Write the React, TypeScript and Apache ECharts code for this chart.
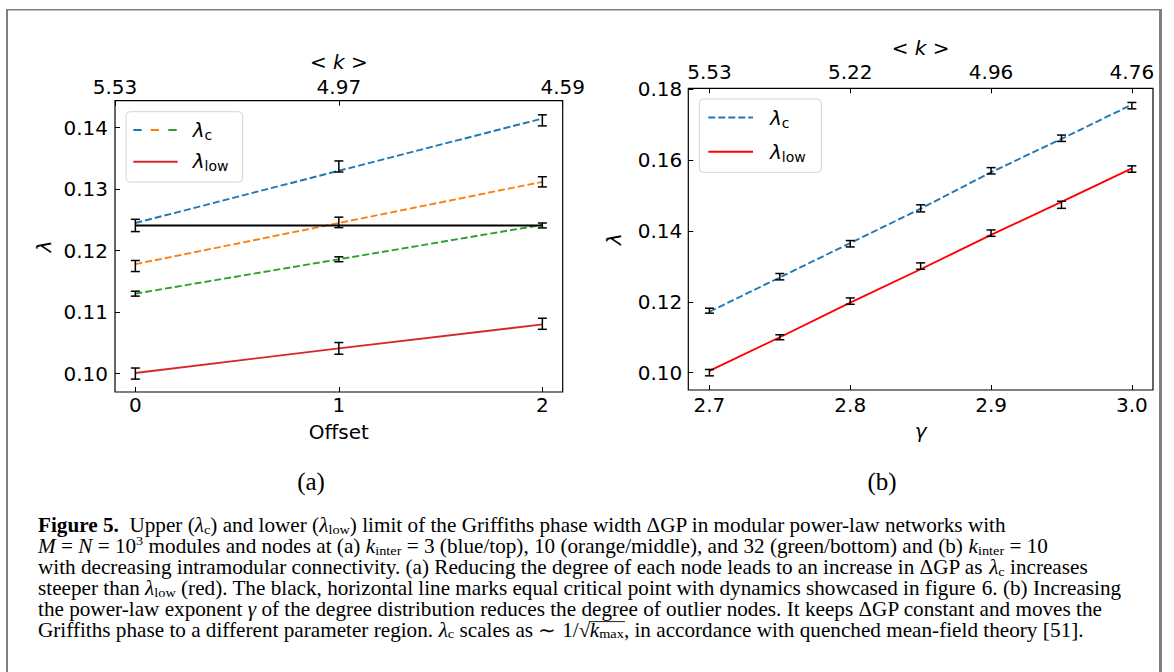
import React, { useEffect, useRef } from 'react';
import * as echarts from 'echarts';

// ---------- Panel (a): lambda versus offset ----------
const offsets = [0, 1, 2];
const kMeanA = ['5.53', '4.97', '4.59'];
const yTicksA = [0.10, 0.11, 0.12, 0.13, 0.14];

const lcBlueMean = [0.1241, 0.1337, 0.1412];
const lcBlueErr = [0.0010, 0.0009, 0.0009];
const lcBlueFit = [0.1245, 0.1330, 0.1415];

const lcOrangeMean = [0.1175, 0.1246, 0.1312];
const lcOrangeErr = [0.0009, 0.00085, 0.00083];
const lcOrangeFit = [0.1178, 0.1245, 0.1312];

const lcGreenMean = [0.1130, 0.1186, 0.1241];
const lcGreenErr = [0.0004, 0.0004, 0.0004];
const lcGreenFit = [0.1130, 0.1186, 0.1242];

const lowRedMean = [0.1000, 0.1041, 0.1081];
const lowRedErr = [0.0009, 0.00095, 0.0009];
const lowRedFit = [0.1001, 0.1041, 0.1080];

const equalCritical = 0.1241;

// ---------- Panel (b): lambda versus gamma ----------
const gammas = [2.70, 2.75, 2.80, 2.85, 2.90, 2.95, 3.00];
const gammaTicks = [2.7, 2.8, 2.9, 3.0];
const kMeanB = ['5.53', '5.22', '4.96', '4.76'];
const yTicksB = [0.10, 0.12, 0.14, 0.16, 0.18];

const lcMeanB = [0.1175, 0.1271, 0.1364, 0.1464, 0.1570, 0.1662, 0.1754];
const lcErrB = [0.0007, 0.0009, 0.0009, 0.0010, 0.0009, 0.0009, 0.0009];
const lcFitB = [0.1172, 0.1269, 0.1366, 0.1463, 0.1566, 0.1660, 0.1757];

const lowMeanB = [0.1000, 0.1100, 0.1202, 0.1301, 0.1394, 0.1474, 0.1575];
const lowErrB = [0.0009, 0.0007, 0.0009, 0.0009, 0.0009, 0.0010, 0.0009];
const lowFitB = [0.1005, 0.1100, 0.1198, 0.1292, 0.1389, 0.1482, 0.1577];

// ---------- Caption ----------
const captionLines = [
  '{b|Figure 5.}{n|  Upper (}{i|λ}{s|c}{n|) and lower (}{i|λ}{s|low}{n|) limit of the Griffiths phase width ΔGP in modular power-law networks with}',
  '{i|M}{n| = }{i|N}{n| = 10}{p|3}{n| modules and nodes at (a) }{i|k}{s|inter}{n| = 3 (blue/top), 10 (orange/middle), and 32 (green/bottom) and (b) }{i|k}{s|inter}{n| = 10}',
  '{n|with decreasing intramodular connectivity. (a) Reducing the degree of each node leads to an increase in ΔGP as }{i|λ}{s|c}{n| increases}',
  '{n|steeper than }{i|λ}{s|low}{n| (red). The black, horizontal line marks equal critical point with dynamics showcased in figure }{l|6}{n|. (b) Increasing}',
  '{n|the power-law exponent }{i|γ}{n| of the degree distribution reduces the degree of outlier nodes. It keeps ΔGP constant and moves the}',
  '{n|Griffiths phase to a different parameter region. }{i|λ}{s|c}{n| scales as ∼ 1/√}{i|k}{s|max}{n|, in accordance with quenched mean-field theory [}{l|51}{n|].}',
];

const SANS = 'DejaVu Sans';
const SERIF = 'Liberation Serif';
const CAP_COLOR = '#231f20';
const CAP_SIZE = 20;
const CAP_SUB = 13.5;
const CAP_STRETCH = 1.06;

const BLUE = '#1f77b4';
const ORANGE = '#ff7f0e';
const GREEN = '#2ca02c';
const TAB_RED = '#d62728';
const RED = '#ff0000';

const zip = (xs: number[], ys: number[]) => xs.map((x, i) => [x, ys[i]]);

const tickFont = { fontFamily: SANS, fontSize: 20, color: '#000' };

const mathRich = {
  n: { fontFamily: SANS, fontSize: 20, color: '#000' },
  i: { fontFamily: SANS, fontSize: 20, fontStyle: 'italic', color: '#000' },
  s: { fontFamily: SANS, fontSize: 14, color: '#000', padding: [10, 0, 0, 0] },
};

const capRich = {
  n: { fontFamily: SERIF, fontSize: CAP_SIZE, color: CAP_COLOR },
  b: { fontFamily: SERIF, fontSize: CAP_SIZE, fontWeight: 'bold', color: CAP_COLOR },
  i: { fontFamily: SERIF, fontSize: CAP_SIZE, fontStyle: 'italic', color: CAP_COLOR },
  l: { fontFamily: SERIF, fontSize: CAP_SIZE, color: '#1d8fd0' },
  s: { fontFamily: SERIF, fontSize: CAP_SUB, color: CAP_COLOR, padding: [8, 0, 0, 0] },
  p: { fontFamily: SERIF, fontSize: CAP_SUB, color: CAP_COLOR, padding: [0, 0, 11, 0] },
};

function errorBars(xs: number[], means: number[], errs: number[], xAxisIndex: number, yAxisIndex: number) {
  return {
    type: 'custom',
    xAxisIndex,
    yAxisIndex,
    z: 10,
    data: xs.map((x, i) => [x, means[i] - errs[i], means[i] + errs[i]]),
    encode: { x: 0, y: [1, 2] },
    renderItem: (_params: any, api: any) => {
      const x = api.value(0);
      const lo = api.coord([x, api.value(1)]);
      const hi = api.coord([x, api.value(2)]);
      const cap = 4.5;
      const style = { stroke: '#000', lineWidth: 1.5 };
      return {
        type: 'group',
        children: [
          { type: 'line', shape: { x1: lo[0], y1: lo[1], x2: hi[0], y2: hi[1] }, style },
          { type: 'line', shape: { x1: lo[0] - cap, y1: lo[1], x2: lo[0] + cap, y2: lo[1] }, style },
          { type: 'line', shape: { x1: hi[0] - cap, y1: hi[1], x2: hi[0] + cap, y2: hi[1] }, style },
        ],
      };
    },
  };
}

function fitLine(xs: number[], ys: number[], color: string, dashed: boolean, xAxisIndex: number, yAxisIndex: number) {
  return {
    type: 'line',
    xAxisIndex,
    yAxisIndex,
    data: zip(xs, ys),
    showSymbol: false,
    symbol: 'none',
    z: 5,
    lineStyle: { color, width: 1.9, type: dashed ? [7, 3] : 'solid' },
  };
}

function textWidth(ctx: CanvasRenderingContext2D, txt: string, size: number, style = 'normal') {
  ctx.font = `${style} normal ${size}px "${SERIF}"`;
  return ctx.measureText(txt).width;
}

export default function App() {
  const ref = useRef<HTMLDivElement>(null);

  useEffect(() => {
    if (!ref.current) return;
    const chart = echarts.init(ref.current, undefined, { renderer: 'svg' });

    const axisTick = { show: true, inside: true, length: 5, lineStyle: { color: '#000', width: 1 } };
    const noLine = { show: false, onZero: false };
    const capX = 38;
    const capY = [525.5, 546.4, 567.3, 588.2, 609.1, 630];

    // overline of the square root in the last caption line
    const cv = document.createElement('canvas');
    const ctx = cv.getContext('2d') as CanvasRenderingContext2D;
    const preW =
      textWidth(ctx, 'Griffiths phase to a different parameter region. ', CAP_SIZE) +
      textWidth(ctx, 'λ', CAP_SIZE, 'italic') +
      textWidth(ctx, 'c', CAP_SUB) +
      textWidth(ctx, ' scales as ∼ 1/√', CAP_SIZE);
    const rootW = textWidth(ctx, 'k', CAP_SIZE, 'italic') + textWidth(ctx, 'max', CAP_SUB);
    const overY = capY[5] - 0.42 * CAP_SIZE;

    const graphic: any[] = [
      // page frame
      { type: 'line', shape: { x1: 7, y1: 9, x2: 7, y2: 672 }, style: { stroke: '#808080', lineWidth: 2 } },
      { type: 'line', shape: { x1: 6, y1: 9.75, x2: 1162, y2: 9.75 }, style: { stroke: '#808080', lineWidth: 1.5 } },
      { type: 'line', shape: { x1: 1160.5, y1: 9, x2: 1160.5, y2: 672 }, style: { stroke: '#808080', lineWidth: 3 } },

      // legend (a)
      { type: 'rect', z: 100, shape: { x: 126, y: 111.7, width: 116.7, height: 70.3, r: 4 }, style: { fill: 'rgba(255,255,255,0.8)', stroke: '#d4d4d4', lineWidth: 1 } },
      { type: 'line', z: 101, shape: { x1: 133.3, y1: 130, x2: 141.7, y2: 130 }, style: { stroke: BLUE, lineWidth: 2 } },
      { type: 'line', z: 101, shape: { x1: 150.7, y1: 130, x2: 159, y2: 130 }, style: { stroke: ORANGE, lineWidth: 2 } },
      { type: 'line', z: 101, shape: { x1: 168.3, y1: 130, x2: 176.7, y2: 130 }, style: { stroke: GREEN, lineWidth: 2 } },
      { type: 'line', z: 101, shape: { x1: 133.3, y1: 161.7, x2: 177.7, y2: 161.7 }, style: { stroke: TAB_RED, lineWidth: 2 } },
      { type: 'text', z: 101, x: 192.7, y: 130, style: { text: '{i|λ}{s|c}', rich: mathRich, align: 'left', verticalAlign: 'middle' } },
      { type: 'text', z: 101, x: 192.7, y: 161, style: { text: '{i|λ}{s|low}', rich: mathRich, align: 'left', verticalAlign: 'middle' } },

      // legend (b)
      { type: 'rect', z: 100, shape: { x: 699.3, y: 99, width: 122, height: 73.3, r: 4 }, style: { fill: 'rgba(255,255,255,0.8)', stroke: '#d4d4d4', lineWidth: 1 } },
      { type: 'line', z: 101, shape: { x1: 708.3, y1: 117.5, x2: 753, y2: 117.5 }, style: { stroke: BLUE, lineWidth: 2, lineDash: [7, 3] } },
      { type: 'line', z: 101, shape: { x1: 708.3, y1: 151.7, x2: 753, y2: 151.7 }, style: { stroke: RED, lineWidth: 2 } },
      { type: 'text', z: 101, x: 770, y: 118, style: { text: '{i|λ}{s|c}', rich: mathRich, align: 'left', verticalAlign: 'middle' } },
      { type: 'text', z: 101, x: 770, y: 152, style: { text: '{i|λ}{s|low}', rich: mathRich, align: 'left', verticalAlign: 'middle' } },

      // sub-figure tags
      { type: 'text', x: 311, y: 481, style: { text: '(a)', fontFamily: SERIF, fontSize: 25, fill: '#000', align: 'center', verticalAlign: 'middle' } },
      { type: 'text', x: 882, y: 481, style: { text: '(b)', fontFamily: SERIF, fontSize: 25, fill: '#000', align: 'center', verticalAlign: 'middle' } },

      // caption
      ...captionLines.map((line, i) => ({
        type: 'text',
        x: capX,
        y: capY[i],
        scaleX: CAP_STRETCH,
        style: { text: line, rich: capRich, align: 'left', verticalAlign: 'middle' },
      })),
      {
        type: 'line',
        shape: {
          x1: capX + (preW - 1) * CAP_STRETCH,
          y1: overY,
          x2: capX + (preW + rootW + 1) * CAP_STRETCH,
          y2: overY,
        },
        style: { stroke: CAP_COLOR, lineWidth: 1 },
      },
    ];

    chart.setOption({
      animation: false,
      backgroundColor: '#fff',
      textStyle: { fontFamily: SANS },
      grid: [
        { left: 115, top: 100.7, width: 447.7, height: 291.3, show: true, borderColor: '#000', borderWidth: 1.2, backgroundColor: 'transparent' },
        { left: 688.3, top: 88.3, width: 464.7, height: 301.7, show: true, borderColor: '#000', borderWidth: 1.2, backgroundColor: 'transparent' },
      ],
      xAxis: [
        {
          gridIndex: 0, type: 'value', position: 'bottom', min: -0.1, max: 2.1,
          axisLine: noLine, splitLine: { show: false },
          axisTick: { ...axisTick, customValues: offsets },
          axisLabel: { ...tickFont, margin: 3, customValues: offsets, formatter: (v: number) => String(v) },
          name: 'Offset', nameLocation: 'middle', nameGap: 30,
          nameTextStyle: { ...tickFont },
        },
        {
          gridIndex: 0, type: 'category', position: 'top', data: kMeanA, boundaryGap: false,
          axisLine: noLine, splitLine: { show: false },
          axisTick: { ...axisTick },
          axisLabel: { ...tickFont, margin: 4, interval: 0 },
          name: '{n|< }{i|k}{n| >}', nameLocation: 'middle', nameGap: 29,
          nameTextStyle: { rich: mathRich },
        },
        {
          gridIndex: 1, type: 'value', position: 'bottom', min: 2.685, max: 3.015,
          axisLine: noLine, splitLine: { show: false },
          axisTick: { ...axisTick, customValues: gammaTicks },
          axisLabel: { ...tickFont, margin: 5, customValues: gammaTicks, formatter: (v: number) => v.toFixed(1) },
          name: 'γ', nameLocation: 'middle', nameGap: 31,
          nameTextStyle: { ...tickFont, fontStyle: 'italic' },
        },
        {
          gridIndex: 1, type: 'value', position: 'top', min: 2.685, max: 3.015,
          axisLine: noLine, splitLine: { show: false },
          axisTick: { ...axisTick, customValues: gammaTicks },
          axisLabel: {
            ...tickFont, margin: 6, customValues: gammaTicks,
            formatter: (v: number) => kMeanB[gammaTicks.findIndex((t) => Math.abs(t - v) < 1e-6)] ?? '',
          },
          name: '{n|< }{i|k}{n| >}', nameLocation: 'middle', nameGap: 30,
          nameTextStyle: { rich: mathRich },
        },
      ],
      yAxis: [
        {
          gridIndex: 0, type: 'value', position: 'left', min: 0.0970, max: 0.1444,
          axisLine: noLine, splitLine: { show: false },
          axisTick: { ...axisTick, customValues: yTicksA },
          axisLabel: { ...tickFont, margin: 7, customValues: yTicksA, formatter: (v: number) => v.toFixed(2) },
          name: 'λ', nameLocation: 'middle', nameGap: 61, nameRotate: 90,
          nameTextStyle: { ...tickFont, fontStyle: 'italic' },
        },
        {
          gridIndex: 1, type: 'value', position: 'left', min: 0.0951, max: 0.1803,
          axisLine: noLine, splitLine: { show: false },
          axisTick: { ...axisTick, customValues: yTicksB },
          axisLabel: { ...tickFont, margin: 6, customValues: yTicksB, formatter: (v: number) => v.toFixed(2) },
          name: 'λ', nameLocation: 'middle', nameGap: 64, nameRotate: 90,
          nameTextStyle: { ...tickFont, fontStyle: 'italic' },
        },
      ],
      series: [
        // panel (a)
        fitLine(offsets, lcBlueFit, BLUE, true, 0, 0),
        fitLine(offsets, lcOrangeFit, ORANGE, true, 0, 0),
        fitLine(offsets, lcGreenFit, GREEN, true, 0, 0),
        fitLine(offsets, lowRedFit, TAB_RED, false, 0, 0),
        {
          type: 'line', xAxisIndex: 0, yAxisIndex: 0, showSymbol: false, symbol: 'none', z: 6,
          data: [[offsets[0], equalCritical], [offsets[offsets.length - 1], equalCritical]],
          lineStyle: { color: '#000', width: 1.9 },
        },
        errorBars(offsets, lcBlueMean, lcBlueErr, 0, 0),
        errorBars(offsets, lcOrangeMean, lcOrangeErr, 0, 0),
        errorBars(offsets, lcGreenMean, lcGreenErr, 0, 0),
        errorBars(offsets, lowRedMean, lowRedErr, 0, 0),
        // panel (b)
        fitLine(gammas, lcFitB, BLUE, true, 2, 1),
        fitLine(gammas, lowFitB, RED, false, 2, 1),
        errorBars(gammas, lcMeanB, lcErrB, 2, 1),
        errorBars(gammas, lowMeanB, lowErrB, 2, 1),
      ],
      graphic,
    });

    return () => chart.dispose();
  }, []);

  return (
    <div
      ref={ref}
      style={{ position: 'absolute', left: 0, top: 0, width: 1174, height: 672, background: '#fff' }}
    />
  );
}
